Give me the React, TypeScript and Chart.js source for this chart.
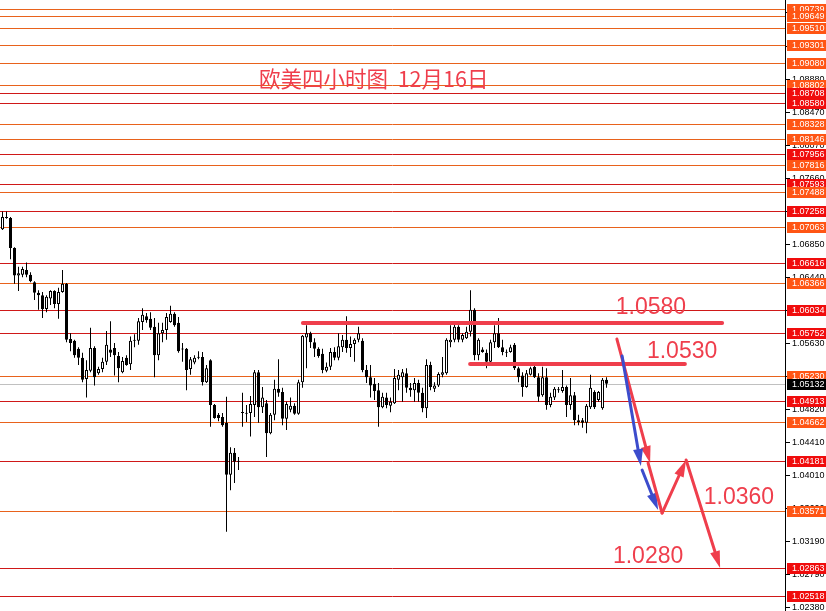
import { useEffect, useRef } from "react";
import { Chart, registerables } from "chart.js";

Chart.register(...registerables);

// ---- candle data (EUR/USD, H4) ----
const opens = [
  1.0703, 1.0718, 1.0717, 1.068, 1.0646, 1.0647, 1.0653, 1.0647, 1.0638, 1.0625,
  1.0622, 1.0605, 1.0618, 1.0627, 1.0611, 1.0626, 1.0636, 1.0568, 1.0566, 1.0556,
  1.0545, 1.0519, 1.0529, 1.0557, 1.0526, 1.0531, 1.054, 1.0555, 1.0557, 1.0547,
  1.0527, 1.0545, 1.0537, 1.0566, 1.0566, 1.0589, 1.0596, 1.0593, 1.0583, 1.0548,
  1.0575, 1.0579, 1.0589, 1.0599, 1.0588, 1.0556, 1.0556, 1.0531, 1.0539, 1.0546,
  1.0546, 1.0515, 1.0542, 1.0487, 1.0475, 1.0472, 1.0465, 1.0401, 1.0428, 1.0417,
  1.0477, 1.0477, 1.0477, 1.0487, 1.0527, 1.0484, 1.0489, 1.0452, 1.0475, 1.0507,
  1.0503, 1.047, 1.0481, 1.0486, 1.0476, 1.0515, 1.057, 1.0575, 1.0564, 1.0556,
  1.055, 1.0529, 1.0534, 1.0552, 1.0545, 1.0558, 1.0567, 1.0557, 1.0562, 1.0567,
  1.0566, 1.053, 1.0521, 1.0513, 1.0505, 1.0484, 1.0496, 1.0486, 1.0489, 1.0518,
  1.0521, 1.0526, 1.0508, 1.0505, 1.0514, 1.0502, 1.0483, 1.0536, 1.0507, 1.0511,
  1.0524, 1.0526, 1.0564, 1.0567, 1.0583, 1.0567, 1.0569, 1.0577, 1.0604, 1.0548,
  1.0555, 1.0551, 1.054, 1.0564, 1.0575, 1.0558, 1.0552, 1.0552, 1.0561, 1.0532,
  1.0523, 1.0509, 1.0524, 1.0534, 1.0521, 1.0499, 1.0521, 1.0487, 1.0496, 1.0505,
  1.0504, 1.0509, 1.0487, 1.0499, 1.0468, 1.0468, 1.0465, 1.0484, 1.0503, 1.0493,
  1.0483, 1.0518,
];
const highs = [
  1.0725, 1.0725, 1.0718, 1.0681, 1.0657, 1.0657, 1.0662, 1.065, 1.0639, 1.0628,
  1.0626, 1.0622, 1.0628, 1.0628, 1.0631, 1.0653, 1.0637, 1.0575, 1.0567, 1.0558,
  1.0551, 1.0542, 1.0582, 1.0559, 1.0534, 1.0545, 1.0578, 1.059, 1.0563, 1.0552,
  1.0546, 1.0548, 1.0571, 1.0574, 1.0594, 1.0606, 1.06, 1.0601, 1.0594, 1.0588,
  1.0588, 1.06, 1.0609, 1.0601, 1.0595, 1.0563, 1.0557, 1.0546, 1.0548, 1.0553,
  1.0552, 1.0536, 1.0543, 1.0488, 1.0477, 1.0477, 1.0497, 1.0435, 1.0434, 1.0423,
  1.0502, 1.0487, 1.0498, 1.053, 1.053, 1.0509, 1.0493, 1.0477, 1.0518, 1.0543,
  1.0508, 1.0491, 1.0496, 1.0489, 1.0518, 1.0573, 1.0585, 1.0577, 1.0569, 1.0558,
  1.0556, 1.0539, 1.0557, 1.0558, 1.0575, 1.0573, 1.0596, 1.0571, 1.0569, 1.0583,
  1.0569, 1.0536, 1.0536, 1.052, 1.0514, 1.0502, 1.0502, 1.0496, 1.0531, 1.053,
  1.0531, 1.0532, 1.0514, 1.052, 1.0518, 1.0508, 1.0543, 1.054, 1.0515, 1.0527,
  1.0546, 1.0569, 1.0585, 1.0588, 1.0585, 1.0575, 1.0583, 1.0628, 1.0606, 1.0569,
  1.0558, 1.0555, 1.0567, 1.0585, 1.0594, 1.0567, 1.0555, 1.0561, 1.0563, 1.0534,
  1.0527, 1.053, 1.0534, 1.0536, 1.0526, 1.0534, 1.0532, 1.0502, 1.0509, 1.0509,
  1.053, 1.0511, 1.052, 1.0503, 1.0475, 1.0471, 1.0488, 1.0524, 1.0505, 1.0504,
  1.052, 1.0521,
];
const lows = [
  1.0702, 1.0716, 1.0666, 1.0636, 1.0627, 1.0644, 1.0644, 1.0638, 1.0616, 1.0604,
  1.0594, 1.0601, 1.061, 1.0606, 1.0593, 1.0625, 1.0564, 1.0553, 1.0545, 1.0536,
  1.0515, 1.0496, 1.0527, 1.0511, 1.0524, 1.0527, 1.0536, 1.0546, 1.0523, 1.0515,
  1.0526, 1.0535, 1.053, 1.0558, 1.0561, 1.0579, 1.0588, 1.0579, 1.0521, 1.0542,
  1.0564, 1.0567, 1.0588, 1.0583, 1.0551, 1.054, 1.0505, 1.0524, 1.0537, 1.0543,
  1.0511, 1.0514, 1.046, 1.047, 1.0467, 1.046, 1.0331, 1.0382, 1.0391, 1.0407,
  1.046, 1.0466, 1.0448, 1.0472, 1.0465, 1.0477, 1.0423, 1.0451, 1.0468, 1.0497,
  1.0462, 1.0456, 1.0478, 1.0475, 1.0475, 1.0508, 1.0532, 1.0557, 1.0546, 1.0545,
  1.0526, 1.0527, 1.053, 1.0542, 1.0542, 1.0552, 1.0551, 1.0546, 1.054, 1.0564,
  1.0527, 1.0514, 1.0496, 1.0493, 1.046, 1.0483, 1.0483, 1.0478, 1.0488, 1.0505,
  1.0491, 1.0502, 1.0497, 1.0491, 1.0491, 1.0478, 1.0471, 1.0505, 1.0503, 1.0509,
  1.0521, 1.0524, 1.0558, 1.0564, 1.0564, 1.0564, 1.0568, 1.0571, 1.0542, 1.0542,
  1.0551, 1.0532, 1.0539, 1.0557, 1.0557, 1.0548, 1.0546, 1.0551, 1.053, 1.0515,
  1.0497, 1.0508, 1.0523, 1.052, 1.0491, 1.0497, 1.0481, 1.0484, 1.0493, 1.0502,
  1.0502, 1.0472, 1.0481, 1.0462, 1.0462, 1.0459, 1.0452, 1.0482, 1.0482, 1.0491,
  1.0481, 1.0508,
];
const closes = [
  1.0718, 1.0717, 1.068, 1.0646, 1.0649, 1.0654, 1.0647, 1.0639, 1.0625, 1.0622,
  1.0605, 1.062, 1.0627, 1.0611, 1.0626, 1.0636, 1.0567, 1.0563, 1.0548, 1.0545,
  1.0518, 1.053, 1.0557, 1.0521, 1.0531, 1.054, 1.0561, 1.0551, 1.0548, 1.0532,
  1.0541, 1.0536, 1.0566, 1.0567, 1.059, 1.0598, 1.0591, 1.0582, 1.0548, 1.0575,
  1.0579, 1.0595, 1.0599, 1.0585, 1.0553, 1.0555, 1.053, 1.0543, 1.0545, 1.0545,
  1.0515, 1.0532, 1.0487, 1.0471, 1.0471, 1.0462, 1.0401, 1.0428, 1.0417, 1.0418,
  1.0478, 1.0476, 1.0488, 1.0527, 1.0484, 1.0496, 1.0452, 1.0475, 1.0507, 1.0502,
  1.047, 1.0488, 1.0486, 1.0476, 1.0515, 1.0572, 1.0575, 1.0564, 1.0556, 1.0547,
  1.053, 1.0534, 1.0552, 1.0545, 1.0559, 1.0567, 1.0557, 1.0562, 1.0567, 1.0575,
  1.053, 1.0521, 1.0511, 1.0504, 1.0484, 1.0497, 1.0487, 1.0491, 1.052, 1.0524,
  1.0527, 1.0508, 1.0505, 1.0514, 1.0502, 1.0483, 1.0536, 1.0509, 1.0511, 1.0525,
  1.0527, 1.0567, 1.0567, 1.0583, 1.0567, 1.0573, 1.0577, 1.0604, 1.0548, 1.0567,
  1.0552, 1.054, 1.0564, 1.0575, 1.0558, 1.0552, 1.0551, 1.0558, 1.0532, 1.0521,
  1.0509, 1.0526, 1.0532, 1.0521, 1.0497, 1.0521, 1.0487, 1.0497, 1.0507, 1.0506,
  1.0509, 1.0487, 1.0499, 1.0468, 1.0466, 1.0465, 1.0486, 1.0508, 1.0484, 1.0503,
  1.0518, 1.0513,
];

const slotCount = 196;
const priceMin = 1.02335;
const priceMax = 1.0985;

// ---- horizontal levels ----
const levelPrices = [
  1.09739, 1.09649, 1.0951, 1.09301, 1.0908, 1.08802, 1.08708, 1.0858, 1.08328,
  1.08146, 1.07956, 1.07816, 1.07593, 1.07488, 1.07258, 1.07063, 1.06616, 1.06366,
  1.06034, 1.05752, 1.0523, 1.04913, 1.04662, 1.04181, 1.03571, 1.02863, 1.02518,
];
const levelKinds = [
  "o", "o", "o", "o", "o", "o", "r", "r", "o",
  "o", "r", "o", "r", "o", "r", "o", "r", "o",
  "r", "r", "o", "r", "o", "r", "o", "r", "r",
];
const currentPrice = 1.05132;
const axisTicks = [
  "1.09700", "1.09290", "1.08880", "1.08470", "1.08070", "1.07660", "1.07250",
  "1.06850", "1.06440", "1.06040", "1.05630", "1.05230", "1.04820", "1.04410",
  "1.04010", "1.03600", "1.03190", "1.02790", "1.02380",
];

// ---- drawn analysis ----
const titleText = "欧美四小时图  12月16日";
const titleIdx = 92.8;
const titlePrice = 1.08878;

const zonePrices = [1.05877, 1.05373];
const zoneStart = [75.1, 116.9];
const zoneEnd = [179.9, 170.6];

const noteTexts = ["1.0580", "1.0530", "1.0360", "1.0280"];
const noteIdx = [162.1, 169.9, 184.1, 161.4];
const notePrices = [1.06062, 1.0552, 1.03725, 1.02999];

const arrowColors = ["r", "b", "b", "r", "r", "r"];
const arrowFromIdx = [153.6, 154.9, 159.9, 161.4, 164.9, 170.9];
const arrowFromPrice = [1.0568, 1.05471, 1.04069, 1.04155, 1.0354, 1.04192];
const arrowToIdx = [161.9, 159.6, 163.9, 164.9, 170.9, 179.4];
const arrowToPrice = [1.04155, 1.04118, 1.03577, 1.0354, 1.04192, 1.02864];
const arrowHasHead = [true, true, true, false, true, true];

const RED_LINE = "#cf1818";
const ORANGE_LINE = "#e8621c";
const RED_TAG = "#f00c0c";
const ORANGE_TAG = "#ff5514";
const MARK_RED = "#ef3e4c";
const MARK_BLUE = "#3c4ccc";

function drawArrow(ctx: CanvasRenderingContext2D, x1: number, y1: number, x2: number, y2: number, color: string, head: boolean) {
  const ang = Math.atan2(y2 - y1, x2 - x1);
  const hl = 17;
  const hw = 5;
  const bx = head ? x2 - Math.cos(ang) * hl : x2;
  const by = head ? y2 - Math.sin(ang) * hl : y2;
  ctx.strokeStyle = color;
  ctx.fillStyle = color;
  ctx.lineWidth = 3;
  ctx.lineCap = "round";
  ctx.beginPath();
  ctx.moveTo(x1, y1);
  ctx.lineTo(bx, by);
  ctx.stroke();
  if (head) {
    ctx.beginPath();
    ctx.moveTo(x2, y2);
    ctx.lineTo(bx + Math.sin(ang) * hw, by - Math.cos(ang) * hw);
    ctx.lineTo(bx - Math.sin(ang) * hw, by + Math.cos(ang) * hw);
    ctx.closePath();
    ctx.fill();
  }
}

const overlay = {
  id: "overlay",
  beforeDatasetsDraw(chart: any) {
    const { ctx, chartArea, scales } = chart;
    const y = scales.y;
    const axisX = Math.round(chartArea.right);
    ctx.save();
    ctx.lineWidth = 1;
    levelPrices.forEach((p, k) => {
      const py = Math.round(y.getPixelForValue(p)) + 0.5;
      ctx.strokeStyle = levelKinds[k] === "r" ? RED_LINE : ORANGE_LINE;
      ctx.beginPath();
      ctx.moveTo(0, py);
      ctx.lineTo(axisX, py);
      ctx.stroke();
    });
    const cp = Math.round(y.getPixelForValue(currentPrice)) + 0.5;
    ctx.strokeStyle = "#c0c0c0";
    ctx.beginPath();
    ctx.moveTo(0, cp);
    ctx.lineTo(axisX, cp);
    ctx.stroke();
    ctx.restore();
  },
  afterDatasetsDraw(chart: any) {
    const { ctx, chartArea, scales, width, height } = chart;
    const x = scales.x;
    const y = scales.y;
    const axisX = Math.round(chartArea.right);
    ctx.save();

    // zone lines
    ctx.strokeStyle = MARK_RED;
    ctx.lineWidth = 4;
    ctx.lineCap = "round";
    zonePrices.forEach((p, k) => {
      const py = y.getPixelForValue(p);
      ctx.beginPath();
      ctx.moveTo(x.getPixelForValue(zoneStart[k]), py);
      ctx.lineTo(x.getPixelForValue(zoneEnd[k]), py);
      ctx.stroke();
    });

    // arrows
    arrowColors.forEach((c, k) => {
      drawArrow(
        ctx,
        x.getPixelForValue(arrowFromIdx[k]),
        y.getPixelForValue(arrowFromPrice[k]),
        x.getPixelForValue(arrowToIdx[k]),
        y.getPixelForValue(arrowToPrice[k]),
        c === "r" ? MARK_RED : MARK_BLUE,
        arrowHasHead[k]
      );
    });

    // notes
    ctx.fillStyle = MARK_RED;
    ctx.textAlign = "center";
    ctx.textBaseline = "middle";
    ctx.font = "23px 'Liberation Sans', Arial, sans-serif";
    noteTexts.forEach((t, k) => {
      ctx.fillText(t, x.getPixelForValue(noteIdx[k]), y.getPixelForValue(notePrices[k]));
    });

    // title
    ctx.font = "21.5px 'Noto Sans CJK SC', sans-serif";
    ctx.fillText(titleText, x.getPixelForValue(titleIdx), y.getPixelForValue(titlePrice));

    // axis
    ctx.fillStyle = "#000";
    ctx.fillRect(axisX, 0, 1, height);
    ctx.textAlign = "left";
    ctx.font = "9px 'Liberation Sans', Arial, sans-serif";
    axisTicks.forEach((t) => {
      const py = Math.round(y.getPixelForValue(parseFloat(t)));
      ctx.fillStyle = "#000";
      ctx.fillRect(axisX + 1, py, 4, 1);
      ctx.fillText(t, axisX + 7, py + 0.5);
    });

    const tag = (p: number, bg: string, fg: string, text: string) => {
      const py = Math.round(y.getPixelForValue(p));
      ctx.fillStyle = bg;
      ctx.fillRect(axisX + 2, py - 5, width - axisX - 2, 11);
      ctx.fillStyle = fg;
      ctx.fillText(text, axisX + 7, py + 0.5);
    };
    levelPrices.forEach((p, k) => {
      tag(p, levelKinds[k] === "r" ? RED_TAG : ORANGE_TAG, "#fff", p.toFixed(5));
    });
    tag(currentPrice, "#000", "#fff", currentPrice.toFixed(5));

    ctx.restore();
  },
};

export default function App() {
  const canvasRef = useRef<HTMLCanvasElement | null>(null);

  useEffect(() => {
    if (!canvasRef.current) return;
    const labels = Array.from({ length: slotCount }, (_, i) => String(i));
    const bodies = opens.map((o, i) => [Math.min(o, closes[i]), Math.max(o, closes[i])]);
    const wicks = lows.map((l, i) => [l, highs[i]]);
    const fills = opens.map((o, i) => (closes[i] > o ? "#ffffff" : "#000000"));

    const chart = new Chart(canvasRef.current, {
      type: "bar",
      data: {
        labels,
        datasets: [
          {
            label: "body",
            data: bodies as any,
            backgroundColor: fills,
            borderColor: "#000000",
            borderWidth: 1,
            borderSkipped: false,
            barThickness: 3,
            minBarLength: 1,
            grouped: false,
            inflateAmount: 0,
            order: 0,
          } as any,
          {
            label: "wick",
            data: wicks as any,
            backgroundColor: "#000000",
            borderWidth: 0,
            barThickness: 1,
            minBarLength: 1,
            grouped: false,
            inflateAmount: 0,
            order: 1,
          } as any,
        ],
      },
      options: {
        animation: false,
        responsive: false,
        maintainAspectRatio: false,
        events: [],
        layout: { padding: { left: 0.5, right: 41.5, top: 0, bottom: 0 } },
        plugins: { legend: { display: false }, tooltip: { enabled: false }, title: { display: false } },
        scales: {
          x: { type: "category", display: false, offset: true, grid: { display: false } },
          y: { type: "linear", display: false, min: priceMin, max: priceMax, grid: { display: false } },
        },
      },
      plugins: [overlay],
    });
    return () => chart.destroy();
  }, []);

  return (
    <div style={{ position: "fixed", left: 0, top: 0, width: 826, height: 611, background: "#fff" }}>
      <canvas ref={canvasRef} width={826} height={611} style={{ display: "block" }} />
    </div>
  );
}
